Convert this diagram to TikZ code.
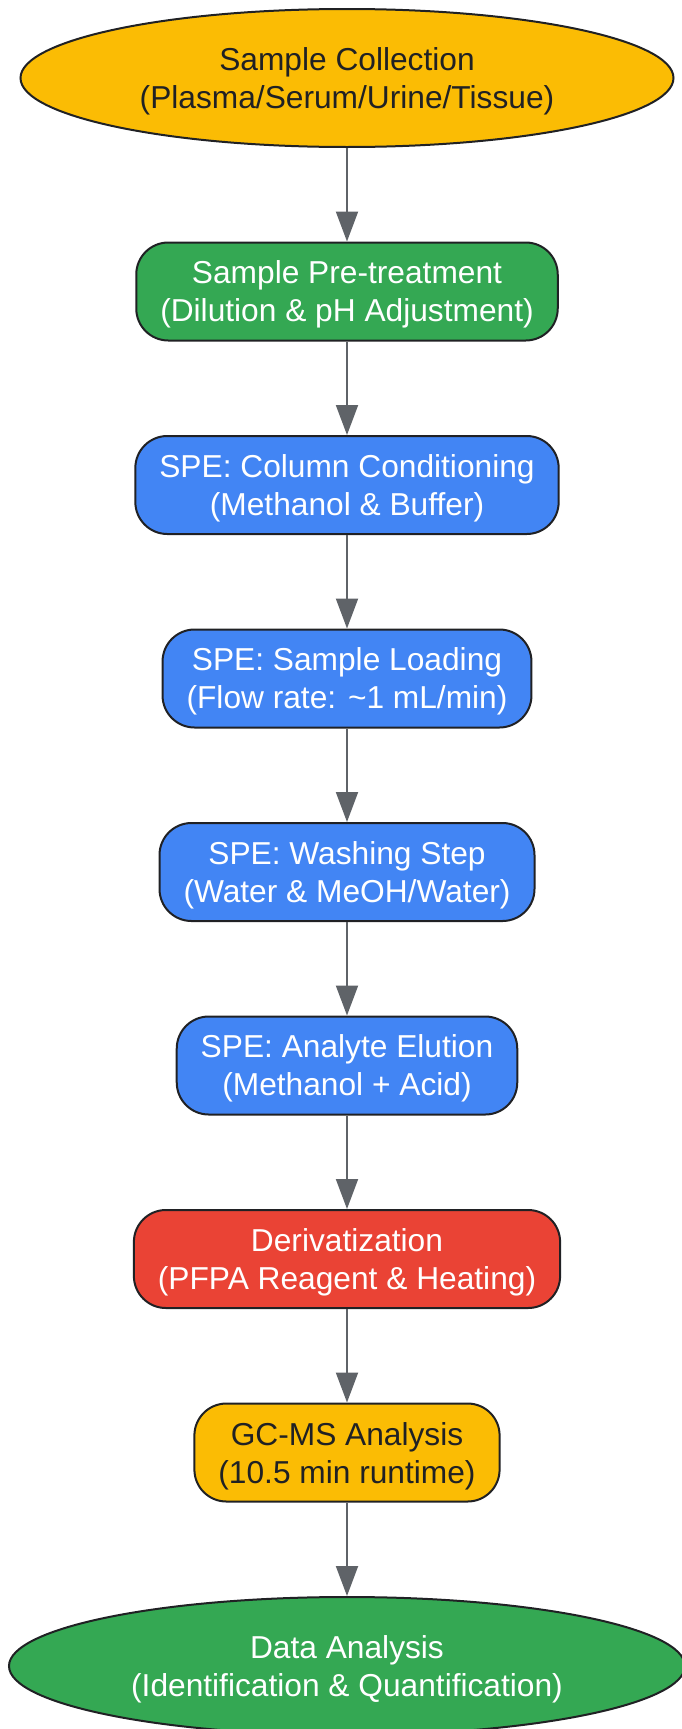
\documentclass[tikz,border=0pt]{standalone}
\usepackage{fontspec}
\setmainfont{Liberation Sans}
\usetikzlibrary{positioning,shapes.geometric,arrows.meta}

\definecolor{gyellow}{HTML}{FBBC04}
\definecolor{ggreen}{HTML}{34A853}
\definecolor{gblue}{HTML}{4285F4}
\definecolor{gred}{HTML}{EA4335}
\definecolor{gdark}{HTML}{202124}
\definecolor{garrow}{HTML}{5F6368}

\tikzset{
  base/.style={draw=gdark, line width=1pt, align=center, text depth=0pt, font=\fontsize{15.85}{19}\selectfont},
  stepbox/.style={base, rounded corners=16pt, minimum height=49pt, inner xsep=12pt, inner ysep=0pt},
  terminal/.style={base, ellipse, inner sep=0pt, minimum height=69pt},
  flow/.style={draw=garrow, line width=1pt, -{Triangle[length=15pt,width=11pt]}},
}

\begin{document}
\begin{tikzpicture}[node distance=46.75pt]
% Frame
\useasboundingbox (0,0) rectangle (340.5pt,-864.5pt);
% Start
\node[terminal, fill=gyellow, text=gdark, minimum width=326.5pt] (collect) at (173.5pt,-39pt)
  {Sample Collection\\(Plasma/Serum/Urine/Tissue)};
% Steps
\node[stepbox, fill=ggreen, text=white, below=of collect] (pretreat)
  {Sample Pre-treatment\\(Dilution \& pH Adjustment)};
\node[stepbox, fill=gblue, text=white, below=of pretreat] (condition)
  {SPE: Column Conditioning\\(Methanol \& Buffer)};
\node[stepbox, fill=gblue, text=white, below=of condition] (loading)
  {SPE: Sample Loading\\(Flow rate: \textasciitilde1 mL/min)};
\node[stepbox, fill=gblue, text=white, below=of loading] (washing)
  {SPE: Washing Step\\(Water \& MeOH/Water)};
\node[stepbox, fill=gblue, text=white, below=of washing] (elution)
  {SPE: Analyte Elution\\(Methanol + Acid)};
\node[stepbox, fill=gred, text=white, below=of elution] (deriv)
  {Derivatization\\(PFPA Reagent \& Heating)};
\node[stepbox, fill=gyellow, text=gdark, below=of deriv] (gcms)
  {GC-MS Analysis\\(10.5 min runtime)};
% End
\node[terminal, fill=ggreen, text=white, minimum width=338pt, below=of gcms] (data)
  {Data Analysis\\(Identification \& Quantification)};
% Arrows
\draw[flow] (collect) -- (pretreat);
\draw[flow] (pretreat) -- (condition);
\draw[flow] (condition) -- (loading);
\draw[flow] (loading) -- (washing);
\draw[flow] (washing) -- (elution);
\draw[flow] (elution) -- (deriv);
\draw[flow] (deriv) -- (gcms);
\draw[flow] (gcms) -- (data);
\end{tikzpicture}
\end{document}
